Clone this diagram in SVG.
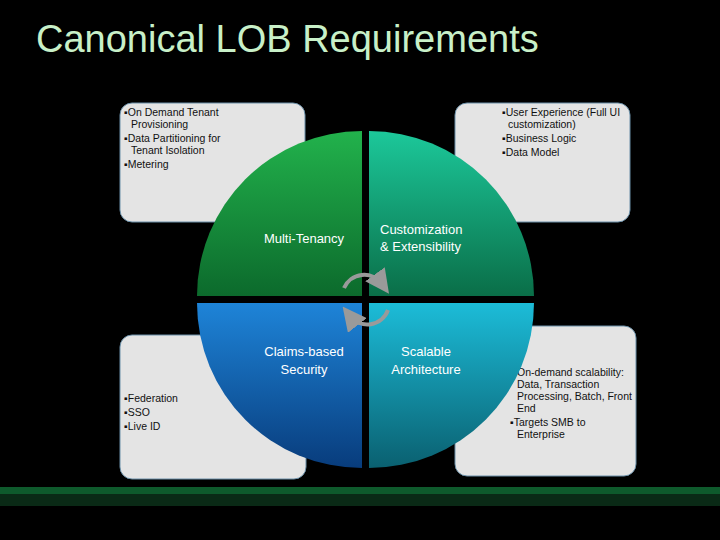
<svg xmlns="http://www.w3.org/2000/svg" width="720" height="540" viewBox="0 0 720 540">
<defs>
<style>
.box{fill:#e4e4e4;stroke:#6a8fa8;stroke-width:1}
.t{font-family:"Liberation Sans",sans-serif;font-size:10.5px;fill:#111}
.q{font-family:"Liberation Sans",sans-serif;font-size:13px;fill:#fff}
</style>
<linearGradient id="g1" x1="0" y1="0" x2="0" y2="1"><stop offset="0" stop-color="#22b24c"/><stop offset="1" stop-color="#0c6a2c"/></linearGradient>
<linearGradient id="g2" x1="0" y1="0" x2="0" y2="1"><stop offset="0" stop-color="#1cc89a"/><stop offset="1" stop-color="#0a6e48"/></linearGradient>
<linearGradient id="g3" x1="0" y1="0" x2="0" y2="1"><stop offset="0" stop-color="#1e84d8"/><stop offset="1" stop-color="#083c7c"/></linearGradient>
<linearGradient id="g4" x1="0" y1="0" x2="0" y2="1"><stop offset="0" stop-color="#1cbcd8"/><stop offset="1" stop-color="#0a6070"/></linearGradient>
<marker id="ah" markerWidth="6" markerHeight="6" refX="3" refY="3" orient="auto"><path d="M0,0 L6,3 L0,6 z" fill="#9a9a9a"/></marker>
</defs>
<rect width="720" height="540" fill="#000"/>
<text x="36" y="52" font-family="Liberation Sans,sans-serif" font-size="38" fill="#c8f0c8">Canonical LOB Requirements</text>
<g id="box-tl"><rect class="box" x="120" y="103" width="185" height="119" rx="12"/>
<text class="t" x="124" y="116">▪On Demand Tenant</text><text class="t" x="131" y="128">Provisioning</text>
<text class="t" x="124" y="142">▪Data Partitioning for</text><text class="t" x="131" y="154">Tenant Isolation</text>
<text class="t" x="124" y="168">▪Metering</text></g>
<g id="box-tr"><rect class="box" x="455" y="103" width="175" height="119" rx="12"/>
<text class="t" x="502" y="116">▪User Experience (Full UI</text><text class="t" x="508" y="128">customization)</text>
<text class="t" x="502" y="142">▪Business Logic</text><text class="t" x="502" y="156">▪Data Model</text></g>
<g id="box-bl"><rect class="box" x="120" y="335" width="186" height="144" rx="12"/>
<text class="t" x="124" y="402">▪Federation</text><text class="t" x="124" y="416">▪SSO</text><text class="t" x="124" y="430">▪Live ID</text></g>
<g id="box-br"><rect class="box" x="455" y="326" width="181" height="150" rx="12"/>
<text class="t" x="517" y="376">On-demand scalability:</text><text class="t" x="517" y="388">Data, Transaction</text>
<text class="t" x="517" y="400">Processing, Batch, Front</text><text class="t" x="517" y="412">End</text>
<text class="t" x="510" y="426">▪Targets SMB to</text><text class="t" x="517" y="438">Enterprise</text></g>
<g id="q-multitenancy"><path d="M362,296 L362,131 A165,165 0 0 0 197,296 Z" fill="url(#g1)"/>
<text class="q" x="304" y="243" text-anchor="middle">Multi-Tenancy</text></g>
<g id="q-custom"><path d="M369,296 L369,131 A165,165 0 0 1 534,296 Z" fill="url(#g2)"/>
<text class="q" x="380" y="234">Customization</text><text class="q" x="380" y="251">&amp; Extensibility</text></g>
<g id="q-claims"><path d="M362,303 L197,303 A165,165 0 0 0 362,468 Z" fill="url(#g3)"/>
<text class="q" x="304" y="356" text-anchor="middle">Claims-based</text><text class="q" x="304" y="374" text-anchor="middle">Security</text></g>
<g id="q-scalable"><path d="M369,303 L534,303 A165,165 0 0 1 369,468 Z" fill="url(#g4)"/>
<text class="q" x="426" y="356" text-anchor="middle">Scalable</text><text class="q" x="426" y="374" text-anchor="middle">Architecture</text></g>
<g id="connectors" fill="none" stroke="#9a9a9a" stroke-width="4">
<path d="M344,288 A22,22 0 0 1 382,284" marker-end="url(#ah)"/>
<path d="M388,310 A22,22 0 0 1 350,316" marker-end="url(#ah)"/>
</g>
<rect x="0" y="487" width="720" height="7" fill="#0e5a2c"/>
<rect x="0" y="494" width="720" height="12" fill="#0a2a16"/>
</svg>
